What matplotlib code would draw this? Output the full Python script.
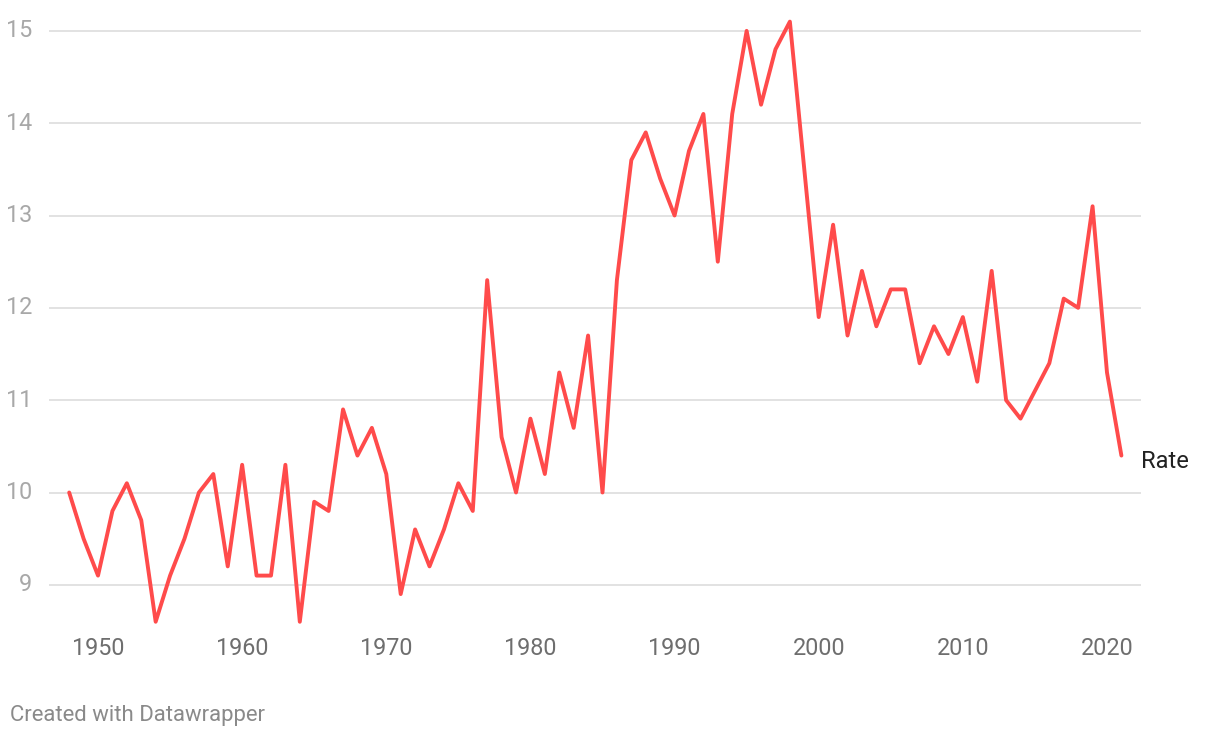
import matplotlib
matplotlib.use("Agg")
import numpy as np
from matplotlib import pyplot as plt

plt.rcParams['font.family'] = ['Roboto', 'DejaVu Sans']

years = list(range(1948, 2022))
rate = [10.0, 9.5, 9.1, 9.8, 10.1, 9.7, 8.6, 9.1, 9.5, 10.0,
        10.2, 9.2, 10.3, 9.1, 9.1, 10.3, 8.6, 9.9, 9.8, 10.9,
        10.4, 10.7, 10.2, 8.9, 9.6, 9.2, 9.6, 10.1, 9.8, 12.3,
        10.6, 10.0, 10.8, 10.2, 11.3, 10.7, 11.7, 10.0, 12.3, 13.6,
        13.9, 13.4, 13.0, 13.7, 14.1, 12.5, 14.1, 15.0, 14.2, 14.8,
        15.1, 13.5, 11.9, 12.9, 11.7, 12.4, 11.8, 12.2, 12.2, 11.4,
        11.8, 11.5, 11.9, 11.2, 12.4, 11.0, 10.8, 11.1, 11.4, 12.1,
        12.0, 13.1, 11.3, 10.4]
xticks = [1950, 1960, 1970, 1980, 1990, 2000, 2010, 2020]
yticks = [9, 10, 11, 12, 13, 14, 15]

W, H = 1220, 738
fig = plt.figure(figsize=(W / 100, H / 100), dpi=100)
left, right, top, bottom = 49, 1141, 17, 631
ax = fig.add_axes([left / W, 1 - bottom / H, (right - left) / W, (bottom - top) / H])

ax.plot(years, rate, color="#ff4b4b", lw=2.8, solid_joinstyle="round",
        solid_capstyle="round", zorder=3)

ax.set_xlim(1946.6, 2022.36)
ax.set_ylim(8.5, 15.15)
ax.set_xticks(xticks)
ax.set_yticks(yticks)
ax.set_xticklabels([str(t) for t in xticks], fontsize=16.8, color="#6e6e6e")
ax.set_yticklabels([str(t) for t in yticks], fontsize=16.8, color="#a8a8a8")
ax.tick_params(axis="both", length=0)
ax.tick_params(axis="y", pad=12)
ax.tick_params(axis="x", pad=4)
for lab in ax.get_yticklabels():
    lab.set_verticalalignment("center")

for y in yticks:
    ax.axhline(y, color="#e2e2e2", lw=1.4, zorder=1)
for s in ax.spines.values():
    s.set_visible(False)

ax.annotate("Rate", xy=(years[-1], rate[-1]), xytext=(14, -4),
            textcoords="offset points", fontsize=17, color="#222222",
            va="center", ha="left", annotation_clip=False)

fig.text(10 / W, 1 - 715 / H, "Created with Datawrapper", fontsize=15.9,
         color="#8a8a8a", va="center", ha="left")

fig.savefig("out.png", dpi=100)
